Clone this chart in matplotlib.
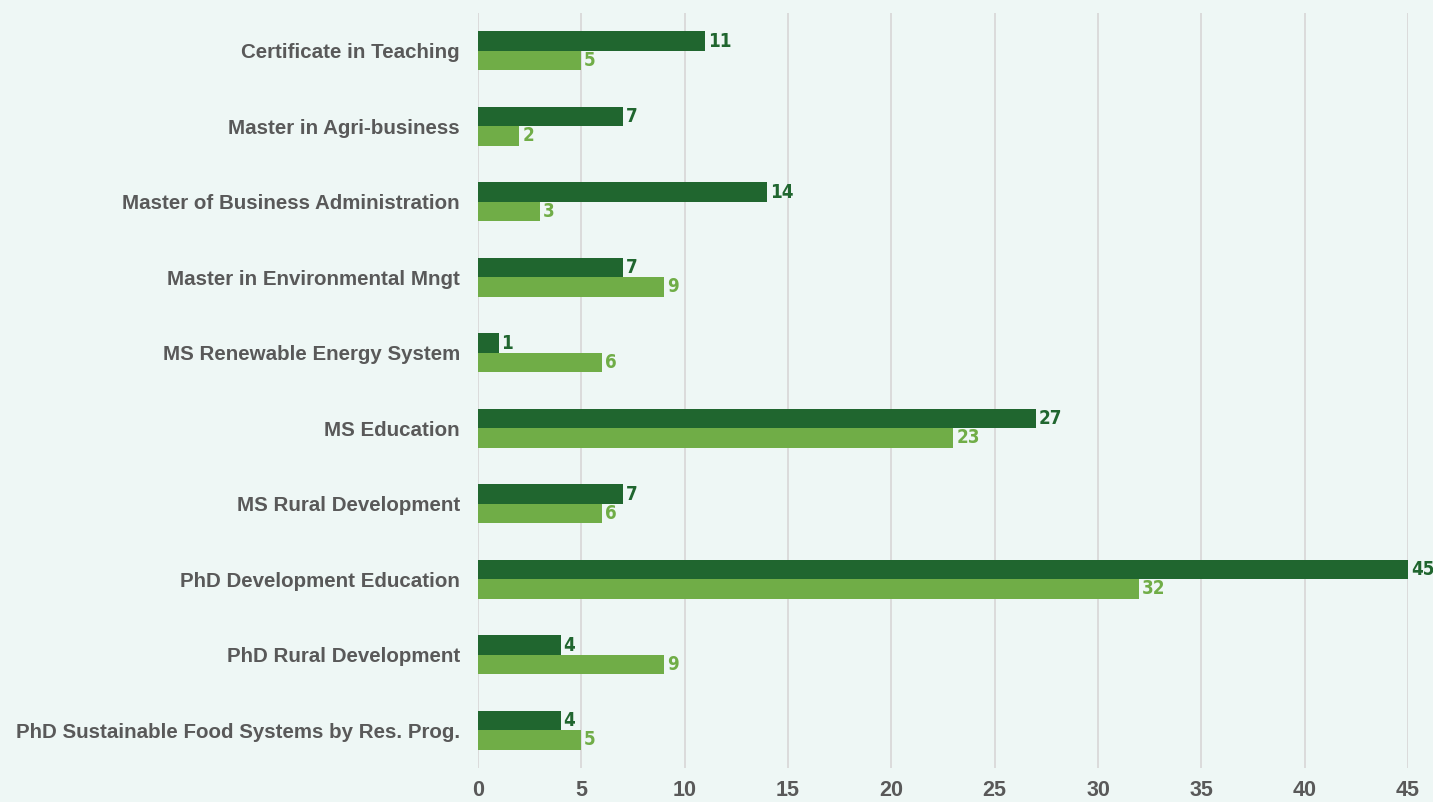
import matplotlib
matplotlib.use("Agg")
import matplotlib.pyplot as plt
import numpy as np

programs = [
    "Certificate in Teaching",
    "Master in Agri-business",
    "Master of Business Administration",
    "Master in Environmental Mngt",
    "MS Renewable Energy System",
    "MS Education",
    "MS Rural Development",
    "PhD Development Education",
    "PhD Rural Development",
    "PhD Sustainable Food Systems by Res. Prog.",
]
series_dark = [11, 7, 14, 7, 1, 27, 7, 45, 4, 4]
series_light = [5, 2, 3, 9, 6, 23, 6, 32, 9, 5]
xticks = [0, 5, 10, 15, 20, 25, 30, 35, 40, 45]

bg = "#eef7f5"
dark = "#20662f"
light = "#70ad47"
grey = "#595959"

fig = plt.figure(figsize=(14.33, 8.02), dpi=100, facecolor=bg)
ax = fig.add_axes([0.3336, 0.0424, 0.649, 0.9414], facecolor=bg)

y = np.arange(len(programs))
h = 0.258
ax.barh(y - h / 2, series_dark, height=h, color=dark, zorder=3)
ax.barh(y + h / 2, series_light, height=h, color=light, zorder=3)

# condensed bold numbers like the original
vfont = dict(family="DejaVu Sans", fontstretch="condensed", fontweight="bold", fontsize=13.5)
for yi, v in zip(y, series_dark):
    ax.annotate(str(v), (v, yi - h / 2), xytext=(2, 0), textcoords="offset points",
                va="center", ha="left", color=dark, **vfont)
for yi, v in zip(y, series_light):
    ax.annotate(str(v), (v, yi + h / 2), xytext=(2, 0), textcoords="offset points",
                va="center", ha="left", color=light, **vfont)

ax.set_xlim(0, 45)
ax.set_ylim(len(programs) - 0.5, -0.5)
ax.set_xticks(xticks)
ax.set_xticklabels([str(t) for t in xticks], fontsize=15.5, fontweight="bold", color=grey,
                   family="Liberation Sans")
ax.set_yticks(y)
ax.set_yticklabels(programs, fontsize=14.8, fontweight="bold", color=grey, family="Liberation Sans")
ax.tick_params(axis="both", length=0)
ax.tick_params(axis="x", pad=9)
ax.tick_params(axis="y", pad=13)
ax.grid(axis="x", color="#d9d9d9", lw=1.3, zorder=0)
for s in ax.spines.values():
    s.set_visible(False)

fig.savefig("out.png", dpi=100, facecolor=bg)
